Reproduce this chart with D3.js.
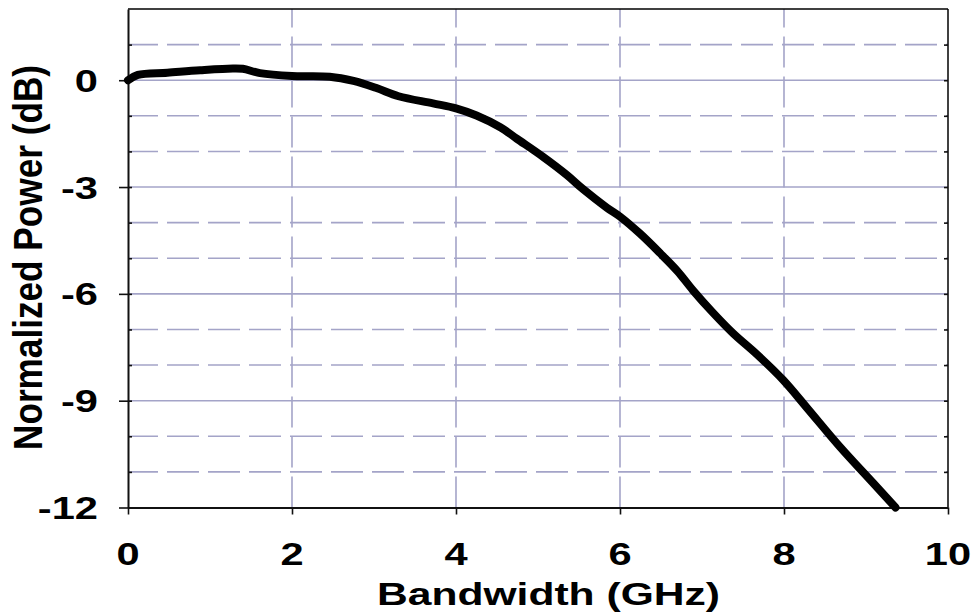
<!DOCTYPE html>
<html lang="en">
<head>
    <meta charset="UTF-8">
    <title>Normalized Power vs Bandwidth</title>
    <script src="https://d3js.org/d3.v7.min.js" charset="utf-8"></script>
    <style>
        body { margin: 0; background: white; }
        text { font-family: "Liberation Sans", Arial, sans-serif; font-weight: bold; fill: #000; }
    </style>
</head>
<body>
<div id="chart"></div>
<script>

    // data
    var freq = [0, 0.12, 0.48, 0.88, 1.28, 1.4, 1.61, 2.0, 2.46, 2.75, 3.03, 3.3, 3.72, 4.0, 4.25, 4.54, 4.74,
        5.06, 5.35, 5.55, 5.84, 6.0, 6.24, 6.49, 6.7, 6.89, 7.13, 7.38, 7.67, 7.99, 8.28, 8.68, 9.09, 9.36];
    var power = [0, 0.15, 0.21, 0.28, 0.33, 0.32, 0.2, 0.12, 0.1, -0.02, -0.22, -0.45, -0.65, -0.79, -0.99, -1.32, -1.64,
        -2.15, -2.66, -3.06, -3.58, -3.83, -4.3, -4.86, -5.36, -5.9, -6.52, -7.11, -7.7, -8.42, -9.2, -10.29, -11.32, -12.0];

    var xTicks = [0, 2, 4, 6, 8, 10];
    var yTicks = [0, -3, -6, -9, -12];
    var yMinor = [1, 0, -1, -2, -3, -4, -5, -6, -7, -8, -9, -10, -11];
    var xTitle = "Bandwidth (GHz)";
    var yTitle = "Normalized Power (dB)";

    var W = 973, H = 612;
    var plotL = 128, plotR = 948, plotT = 9, plotB = 507.5;
    var gridColor = "#a4a4c8";
    var stretch = 1.3;   // the original figure is stretched sideways

    var svg = d3.select("#chart").append("svg").attr("width", W).attr("height", H);
    svg.append("rect").attr("width", W).attr("height", H).attr("fill", "white");

    var x = d3.scaleLinear().domain([0, 10]).range([plotL, plotR]);
    var y = d3.scaleLinear().domain([-12, 2]).range([plotB, plotT]);

    // grid
    var grid = svg.append("g");
    grid.selectAll(".vgrid").data(xTicks.filter(function (d) { return d > 0 && d < 10; }))
        .enter().append("line")
        .attr("x1", function (d) { return x(d); }).attr("x2", function (d) { return x(d); })
        .attr("y1", plotB).attr("y2", plotT)
        .attr("stroke", gridColor).attr("stroke-width", 1.6)
        .attr("stroke-dasharray", "31,9");

    grid.selectAll(".hgrid").data(yMinor)
        .enter().append("line")
        .attr("x1", plotL).attr("x2", plotR)
        .attr("y1", function (d) { return y(d); }).attr("y2", function (d) { return y(d); })
        .attr("stroke", gridColor).attr("stroke-width", 1.6)
        .attr("stroke-dasharray", function (d) { return d % 3 === 0 ? null : "32,9"; })
        .attr("stroke-dashoffset", 2);

    // frame
    svg.append("line").attr("x1", plotL).attr("x2", plotR).attr("y1", plotT).attr("y2", plotT)
        .attr("stroke", "#000").attr("stroke-width", 1.5);
    svg.append("line").attr("x1", plotR).attr("x2", plotR).attr("y1", plotT).attr("y2", plotB)
        .attr("stroke", "#000").attr("stroke-width", 1.5);

    // axes (ticks only, labels drawn below)
    var yMajorAxis = d3.axisLeft(y).tickValues(yTicks).tickSize(9).tickSizeOuter(0).tickFormat("");
    var yMinorAxis = d3.axisRight(y).tickValues(yMinor).tickSize(4).tickSizeOuter(0).tickFormat("");
    var yRightAxis = d3.axisLeft(y).tickValues(yMinor).tickSize(4).tickSizeOuter(0).tickFormat("");
    var xAxis = d3.axisBottom(x).tickValues(xTicks).tickSize(7).tickSizeOuter(0).tickFormat("");

    function styleAxis(g, w) {
        g.selectAll("path").attr("stroke", "#111").attr("stroke-width", w);
        g.selectAll("line").attr("stroke", "#111").attr("stroke-width", 1.6);
    }

    svg.append("g").attr("transform", "translate(" + plotR + ",0)").call(yRightAxis)
        .call(function (g) { g.select(".domain").remove(); styleAxis(g, 0); });
    svg.append("g").attr("transform", "translate(" + plotL + ",0)").call(yMinorAxis)
        .call(function (g) { g.select(".domain").remove(); styleAxis(g, 0); });
    svg.append("g").attr("transform", "translate(" + plotL + ",0)").call(yMajorAxis)
        .call(function (g) { styleAxis(g, 2); });
    svg.append("g").attr("transform", "translate(0," + plotB + ")").call(xAxis)
        .call(function (g) { styleAxis(g, 2); });

    // the curve
    var line = d3.line()
        .x(function (d, i) { return x(freq[i]); })
        .y(function (d) { return y(d); })
        .curve(d3.curveCatmullRom.alpha(0.5));

    svg.append("path").datum(power)
        .attr("d", line)
        .attr("fill", "none")
        .attr("stroke", "#000")
        .attr("stroke-width", 8)
        .attr("stroke-linecap", "round")
        .attr("stroke-linejoin", "round");

    // tick labels
    svg.append("g").selectAll("text").data(yTicks).enter().append("text")
        .attr("transform", function (d) { return "translate(98," + (y(d) + 11.5) + ") scale(" + stretch + ",1)"; })
        .attr("text-anchor", "end")
        .style("font-size", "32px")
        .text(function (d) { return d; });

    svg.append("g").selectAll("text").data(xTicks).enter().append("text")
        .attr("transform", function (d) { return "translate(" + x(d) + ",565) scale(" + stretch + ",1)"; })
        .attr("text-anchor", "middle")
        .style("font-size", "32px")
        .text(function (d) { return d; });

    // axis titles
    svg.append("text")
        .attr("x", 377).attr("y", 605)
        .attr("textLength", 343).attr("lengthAdjust", "spacingAndGlyphs")
        .style("font-size", "31px")
        .text(xTitle);

    svg.append("text")
        .attr("transform", "translate(42,450) scale(" + stretch + ",1) rotate(-90)")
        .attr("textLength", 385).attr("lengthAdjust", "spacingAndGlyphs")
        .style("font-size", "31px")
        .style("font-weight", "600")
        .text(yTitle);

</script>
</body>
</html>
